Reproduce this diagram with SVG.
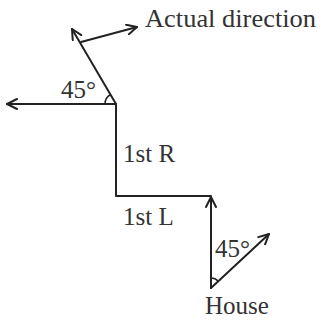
<svg xmlns="http://www.w3.org/2000/svg" width="322" height="320" viewBox="0 0 322 320">
<style>
.ln{stroke:#222;stroke-width:2;fill:none;stroke-linecap:round;stroke-linejoin:round}
.arc{stroke:#222;stroke-width:1.5;fill:none}
.t{font-family:"Liberation Serif","DejaVu Serif",serif;fill:#333;font-size:25px}
</style>
<defs>
<marker id="ah" viewBox="0 0 12 12" refX="11" refY="6" markerWidth="12" markerHeight="12" markerUnits="userSpaceOnUse" orient="auto">
<path d="M1,1 L11,6 L1,11" fill="none" stroke="#222" stroke-width="2" stroke-linecap="round" stroke-linejoin="round"/>
</marker>
</defs>
<rect width="322" height="320" fill="#fff"/>
<g id="connectors">
<line class="ln" x1="116" y1="104" x2="7" y2="104" marker-end="url(#ah)"/>
<line class="ln" x1="116" y1="104" x2="72" y2="29" marker-end="url(#ah)"/>
<line class="ln" x1="81" y1="42" x2="137" y2="27" marker-end="url(#ah)"/>
<polyline class="ln" points="116,104 116,196 211,196"/>
<line class="ln" x1="211" y1="288" x2="211" y2="197" marker-end="url(#ah)"/>
<line class="ln" x1="211" y1="288" x2="269" y2="234" marker-end="url(#ah)"/>
<path class="arc" d="M105,104 A11,11 0 0 1 110.5,94.5"/>
<path class="arc" d="M211,278 A10,10 0 0 1 218.3,281.2"/>
</g>
<g id="label-actual"><text class="t" x="145" y="27" textLength="171" lengthAdjust="spacingAndGlyphs">Actual direction</text></g>
<g id="label-45a"><text class="t" x="61" y="98">45°</text></g>
<g id="label-1stR"><text class="t" x="123" y="162">1st R</text></g>
<g id="label-1stL"><text class="t" x="123" y="225">1st L</text></g>
<g id="label-45b"><text class="t" x="215" y="257">45°</text></g>
<g id="label-house"><text class="t" x="205" y="314">House</text></g>
</svg>
